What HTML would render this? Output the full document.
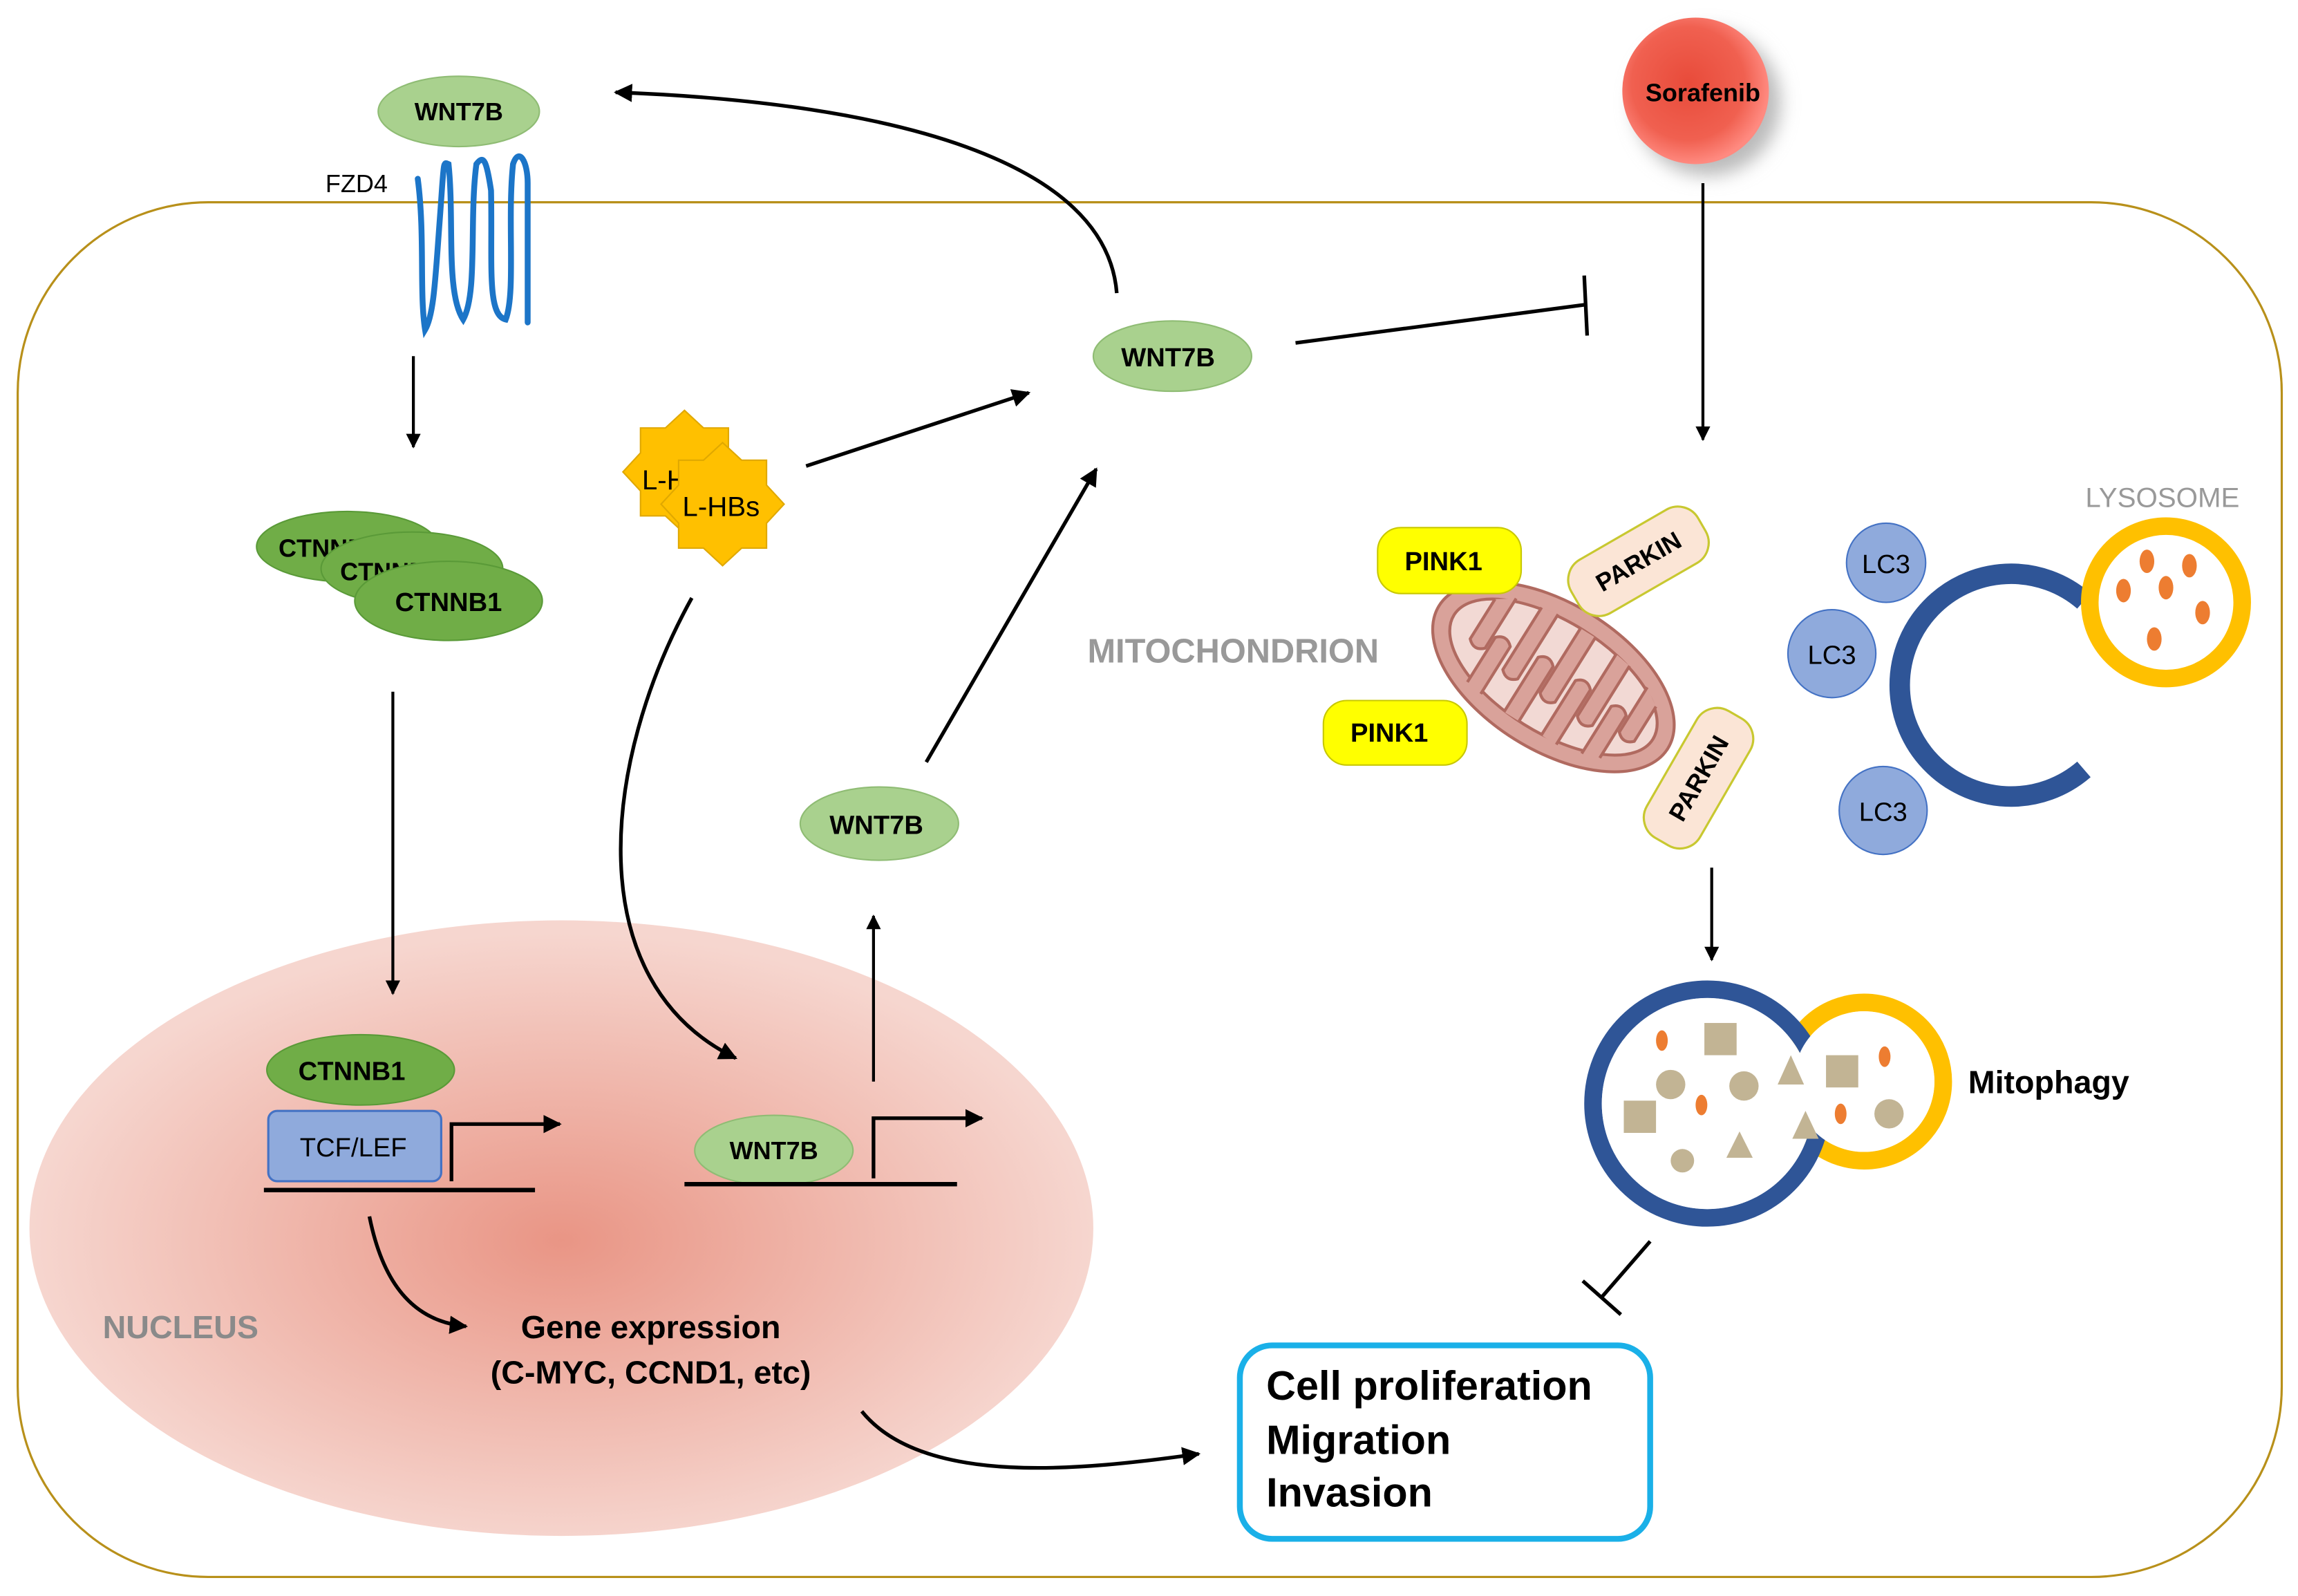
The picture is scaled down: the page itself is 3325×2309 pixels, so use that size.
<!DOCTYPE html>
<html><head><meta charset="utf-8"><style>html,body{margin:0;padding:0;background:#fff}svg{display:block}</style></head>
<body>
<svg width="3325" height="2309" viewBox="0 0 1568 1089" xmlns="http://www.w3.org/2000/svg" font-family="Liberation Sans, Arial, sans-serif">
<defs>
<radialGradient id="nuc" cx="0.5" cy="0.52" r="0.5"><stop offset="0" stop-color="#e99585"/><stop offset="1" stop-color="#f6d6cf"/></radialGradient>
<radialGradient id="sor" cx="0.45" cy="0.45" r="0.55"><stop offset="0" stop-color="#e84b3a"/><stop offset="0.7" stop-color="#f06050"/><stop offset="1" stop-color="#ff8a80"/></radialGradient>
<filter id="sh" x="-50%" y="-50%" width="200%" height="200%"><feGaussianBlur stdDeviation="6"/></filter>
<marker id="ar" viewBox="0 0 10 10" refX="9" refY="5" markerWidth="5" markerHeight="5" orient="auto"><path d="M0,0L10,5L0,10z" fill="#000"/></marker>
</defs>
<rect x="12" y="138" width="1545" height="938" rx="130" fill="none" stroke="#b8901a" stroke-width="1.5"/>
<ellipse cx="383" cy="838" rx="363" ry="210" fill="url(#nuc)"/>
<text x="70" y="913" font-size="22" font-weight="bold" fill="#8a8a8a">NUCLEUS</text>

<!-- FZD4 -->
<g fill="none" stroke="#1c75c8" stroke-width="4" stroke-linecap="round">
<path d="M285,122 C290,160 286,200 290,225 C296,215 297,190 300,150 C303,110 302,110 306,112 C310,150 304,200 316,218 C326,200 320,150 325,112 C330,105 332,110 335,130 C336,180 332,215 345,218 C352,200 346,150 350,112 C354,100 360,110 360,125 L360,220"/>
</g>
<text x="222" y="131" font-size="17">FZD4</text>
<ellipse cx="313" cy="76" rx="55" ry="24" fill="#a9d18e" stroke="#8fbc74"/>
<text x="313" y="82" font-size="17" font-weight="bold" text-anchor="middle">WNT7B</text>

<line x1="282" y1="243" x2="282" y2="305" stroke="#000" stroke-width="2" marker-end="url(#ar)"/>

<ellipse cx="237" cy="373" rx="62" ry="24" fill="#70ad47" stroke="#5a9a38"/>
<text x="190" y="380" font-size="17" font-weight="bold">CTNNB1</text>
<ellipse cx="281" cy="388" rx="62" ry="25" fill="#70ad47" stroke="#5a9a38"/>
<text x="232" y="396" font-size="17" font-weight="bold">CTNNB1</text>
<ellipse cx="306" cy="410" rx="64" ry="27" fill="#70ad47" stroke="#5a9a38"/>
<text x="306" y="417" font-size="18" font-weight="bold" text-anchor="middle">CTNNB1</text>

<line x1="268" y1="472" x2="268" y2="678" stroke="#000" stroke-width="2" marker-end="url(#ar)"/>

<ellipse cx="246" cy="730" rx="64" ry="24" fill="#70ad47" stroke="#5a9a38"/>
<text x="240" y="737" font-size="18" font-weight="bold" text-anchor="middle">CTNNB1</text>
<rect x="183" y="758" width="118" height="48" rx="6" fill="#8faadc" stroke="#4472c4" stroke-width="1.5"/>
<text x="241" y="789" font-size="18" text-anchor="middle">TCF/LEF</text>
<line x1="180" y1="812" x2="365" y2="812" stroke="#000" stroke-width="3"/>
<path d="M308,806 L308,767 L382,767" fill="none" stroke="#000" stroke-width="2.5" marker-end="url(#ar)"/>

<ellipse cx="528" cy="785" rx="54" ry="24" fill="#a9d18e" stroke="#8fbc74"/>
<text x="528" y="791" font-size="17" font-weight="bold" text-anchor="middle">WNT7B</text>
<line x1="467" y1="808" x2="653" y2="808" stroke="#000" stroke-width="3"/>
<path d="M596,804 L596,763 L670,763" fill="none" stroke="#000" stroke-width="2.5" marker-end="url(#ar)"/>

<line x1="596" y1="738" x2="596" y2="625" stroke="#000" stroke-width="2" marker-end="url(#ar)"/>
<ellipse cx="600" cy="562" rx="54" ry="25" fill="#a9d18e" stroke="#8fbc74"/>
<text x="598" y="569" font-size="18" font-weight="bold" text-anchor="middle">WNT7B</text>
<line x1="632" y1="520" x2="748" y2="320" stroke="#000" stroke-width="2.5" marker-end="url(#ar)"/>
<ellipse cx="800" cy="243" rx="54" ry="24" fill="#a9d18e" stroke="#8fbc74"/>
<text x="797" y="250" font-size="18" font-weight="bold" text-anchor="middle">WNT7B</text>

<!-- stars -->
<polygon transform="translate(467,322)" points="0,-42 13,-30 30,-30 30,-13 42,0 30,13 30,30 13,30 0,42 -13,30 -30,30 -30,13 -42,0 -30,-13 -30,-30 -13,-30" fill="#ffc000" stroke="#e0a800"/>
<text x="438" y="334" font-size="19">L-H</text>
<polygon transform="translate(493,344)" points="0,-42 13,-30 30,-30 30,-13 42,0 30,13 30,30 13,30 0,42 -13,30 -30,30 -30,13 -42,0 -30,-13 -30,-30 -13,-30" fill="#ffc000" stroke="#e0a800"/>
<text x="492" y="352" font-size="19" text-anchor="middle">L-HBs</text>

<line x1="550" y1="318" x2="702" y2="268" stroke="#000" stroke-width="2.5" marker-end="url(#ar)"/>
<path d="M472,408 C410,520 395,670 502,722" fill="none" stroke="#000" stroke-width="2.5" marker-end="url(#ar)"/>
<path d="M762,200 C755,110 610,70 420,63" fill="none" stroke="#000" stroke-width="2.5" marker-end="url(#ar)"/>
<line x1="884" y1="234" x2="1081" y2="208" stroke="#000" stroke-width="2.5"/>
<line x1="1081" y1="188" x2="1083" y2="229" stroke="#000" stroke-width="2.5"/>

<path d="M252,830 C262,880 285,902 318,905" fill="none" stroke="#000" stroke-width="2.5" marker-end="url(#ar)"/>
<text x="444" y="913" font-size="22" font-weight="bold" text-anchor="middle">Gene expression</text>
<text x="444" y="944" font-size="22" font-weight="bold" text-anchor="middle">(C-MYC, CCND1, etc)</text>
<path d="M588,963 C630,1015 740,1003 818,992" fill="none" stroke="#000" stroke-width="2.5" marker-end="url(#ar)"/>

<!-- sorafenib -->
<circle cx="1165" cy="70" r="50" fill="#bbb" filter="url(#sh)"/>
<circle cx="1157" cy="62" r="50" fill="url(#sor)"/>
<text x="1162" y="69" font-size="17" font-weight="bold" text-anchor="middle">Sorafenib</text>
<line x1="1162" y1="125" x2="1162" y2="300" stroke="#000" stroke-width="2" marker-end="url(#ar)"/>

<!-- mitochondrion -->
<text x="742" y="452" font-size="23" font-weight="bold" fill="#999">MITOCHONDRION</text>
<g transform="translate(1060,462) rotate(32)">
<ellipse rx="92" ry="50" fill="#d9a29a" stroke="#b06a60" stroke-width="2"/>
<ellipse rx="80" ry="38" fill="#f2d9d4" stroke="#b06a60" stroke-width="2"/>
<g fill="#d9a29a" stroke="#b06a60" stroke-width="2" stroke-linejoin="round">
<path d="M-62,-24 L-62,8 Q-56,14 -50,8 L-50,-32"/>
<path d="M-32,-36 L-32,14 Q-26,20 -20,14 L-20,-38"/>
<path d="M-2,-38 L-2,14 Q4,20 10,14 L10,-38"/>
<path d="M28,-36 L28,14 Q34,20 40,14 L40,-34"/>
<path d="M58,-28 L58,8 Q64,14 70,8 L70,-20"/>
<path d="M-48,34 L-48,-2 Q-42,-8 -36,-2 L-36,36"/>
<path d="M-16,38 L-16,-6 Q-10,-12 -4,-6 L-4,38"/>
<path d="M14,38 L14,-6 Q20,-12 26,-6 L26,38"/>
<path d="M44,34 L44,-4 Q50,-10 56,-4 L56,30"/>
</g>
</g>
<rect x="940" y="360" width="98" height="45" rx="16" fill="#ffff00" stroke="#c8c800"/>
<text x="985" y="389" font-size="18" font-weight="bold" text-anchor="middle">PINK1</text>
<rect x="903" y="478" width="98" height="44" rx="16" fill="#ffff00" stroke="#c8c800"/>
<text x="948" y="506" font-size="18" font-weight="bold" text-anchor="middle">PINK1</text>
<g transform="translate(1118,383) rotate(-30)"><rect x="-50" y="-21" width="100" height="42" rx="16" fill="#fbe5d6" stroke="#c8c830" stroke-width="1.5"/><text y="6" font-size="17" font-weight="bold" text-anchor="middle">PARKIN</text></g>
<g transform="translate(1159,531) rotate(-60)"><rect x="-50" y="-21" width="100" height="42" rx="16" fill="#fbe5d6" stroke="#c8c830" stroke-width="1.5"/><text y="6" font-size="17" font-weight="bold" text-anchor="middle">PARKIN</text></g>

<!-- phagophore -->
<path d="M1422,410 A76,76 0 1 0 1422,525" fill="none" stroke="#2f5597" stroke-width="14"/>
<g fill="#8faadc" stroke="#4472c4">
<circle cx="1287" cy="384" r="27"/><circle cx="1250" cy="446" r="30"/><circle cx="1285" cy="553" r="30"/></g>
<g font-size="18" text-anchor="middle"><text x="1287" y="391">LC3</text><text x="1250" y="453">LC3</text><text x="1285" y="560">LC3</text></g>
<text x="1423" y="346" font-size="19" fill="#999">LYSOSOME</text>
<circle cx="1478" cy="411" r="52" fill="#fff" stroke="#ffc000" stroke-width="12"/>
<g fill="#ed7d31"><ellipse cx="1465" cy="383" rx="5" ry="8"/><ellipse cx="1494" cy="386" rx="5" ry="8"/><ellipse cx="1449" cy="403" rx="5" ry="8"/><ellipse cx="1478" cy="401" rx="5" ry="8"/><ellipse cx="1503" cy="418" rx="5" ry="8"/><ellipse cx="1470" cy="436" rx="5" ry="8"/></g>

<line x1="1168" y1="592" x2="1168" y2="655" stroke="#000" stroke-width="2" marker-end="url(#ar)"/>
<!-- autolysosome -->
<circle cx="1272" cy="738" r="54" fill="#fff" stroke="#ffc000" stroke-width="12"/>
<circle cx="1165" cy="753" r="78" fill="none" stroke="#2f5597" stroke-width="12"/>
<circle cx="1165" cy="753" r="72" fill="#fff"/>
<circle cx="1272" cy="738" r="48" fill="#fff"/>
<g fill="#c2b494">
<rect x="1163" y="698" width="22" height="22"/><rect x="1108" y="751" width="22" height="22"/><rect x="1246" y="720" width="22" height="22"/>
<circle cx="1140" cy="740" r="10"/><circle cx="1190" cy="741" r="10"/><circle cx="1148" cy="792" r="8"/><circle cx="1289" cy="760" r="10"/>
<polygon points="1222,720 1231,740 1213,740"/><polygon points="1187,772 1196,790 1178,790"/><polygon points="1232,758 1241,777 1223,777"/>
</g>
<g fill="#ed7d31"><ellipse cx="1134" cy="710" rx="4" ry="7"/><ellipse cx="1161" cy="754" rx="4" ry="7"/><ellipse cx="1286" cy="721" rx="4" ry="7"/><ellipse cx="1256" cy="760" rx="4" ry="7"/></g>
<text x="1343" y="746" font-size="22" font-weight="bold">Mitophagy</text>

<line x1="1126" y1="847" x2="1093" y2="885" stroke="#000" stroke-width="2.5"/>
<line x1="1080" y1="874" x2="1106" y2="897" stroke="#000" stroke-width="2.5"/>

<rect x="846" y="918" width="280" height="132" rx="22" fill="#fff" stroke="#1ab0e8" stroke-width="4"/>
<g font-size="28" font-weight="bold"><text x="864" y="955">Cell proliferation</text><text x="864" y="992">Migration</text><text x="864" y="1028">Invasion</text></g>
</svg>
</body></html>
